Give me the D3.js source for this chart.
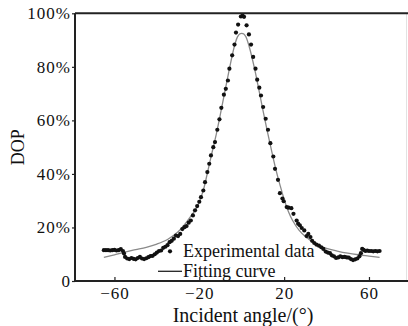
<!DOCTYPE html>
<html>
<head>
<meta charset="utf-8">
<script src="https://cdn.jsdelivr.net/npm/d3@7"></script>
<style>
    html, body { margin: 0; padding: 0; background: #fff; }
    svg { display: block; }
    text { font-family: 'Liberation Serif', 'Times New Roman', serif; fill: #111; }
</style>
</head>
<body>
<svg id="chart"></svg>
<script>
// measured data points (incident angle in degrees, DOP in %)
var expAngles = [
    -65, -64, -63, -62, -61, -60, -59, -58, -57, -56, -55.5, -55, -54, -53, -52, -51, -50, -49, -48, -47,
    -46, -45, -44, -43, -42, -41, -40, -39, -38, -37, -36, -35, -34, -33, -32, -31, -30, -29, -28, -27,
    -26, -25, -24, -23, -22, -21, -20, -19.2, -18.1, -17.3, -16.2, -15.3, -14.5, -13.4, -12.6, -11.5, -10.5, -9.6, -8.4, -7.5,
    -6.5, -5.8, -4.5, -3.4, -2.7, -1.7, -0.4, 0.4, 1.1, 2.3, 3.4, 4.4, 5.4, 6.5, 7.3, 8.3, 9.1, 10.1, 11.3, 12.4,
    13.5, 14.9, 15.7, 17.1, 18.0, 19.2, 19.8, 21.2, 22.1, 23.4, 24.4, 25.9, 26.6, 27.4, 28.3, 29.5, 30.6, 31.4, 32.4, 33.2,
    34.2, 35.2, 36.4, 37.5, 38.5, 39.6, 40.6, 41.6, 42.5, 43.5, 44.5, 45.5, 46.5, 47.5, 48.5, 49.5, 50.5, 51.5, 52.5, 53.5,
    54.5, 55.5, 56.2, 56.8, 57.5, 58.3, 59.2, 60, 61, 62, 63, 64, 65
];
var expDop = [
    11.5, 11.5, 11.5, 11.4, 11.5, 11.6, 11.4, 11.5, 11.9, 11.2, 10.3, 9.0, 8.4, 8.2, 8.6, 8.3, 8.1, 8.6, 9.0, 8.4,
    8.2, 8.5, 8.9, 9.3, 9.4, 10.0, 10.6, 11.2, 11.4, 12.4, 12.8, 13.4, 14.5, 15.0, 15.8, 17.0, 16.8, 17.6, 19.4, 20.1,
    20.5, 21.8, 22.6, 24.5, 26.4, 28.0, 29.6, 31.3, 33.8, 36.9, 40.7, 43.8, 46.9, 50.0, 51.9, 56.5, 60.4, 64.7, 69.6, 71.8,
    74.9, 79.3, 84.3, 88.3, 92.8, 95.8, 98.8, 99.1, 98.7, 95.5, 92.1, 88.3, 83.7, 79.3, 75.2, 72.2, 69.3, 65.0, 60.6, 56.5,
    51.5, 46.5, 41.9, 37.8, 32.8, 30.8, 29.8, 27.6, 27.4, 27.2, 25.1, 22.6, 21.4, 20.8, 19.8, 18.9, 16.8, 17.6, 16.4, 15.0,
    14.2, 13.6, 13.2, 12.6, 12.0, 11.0, 10.6, 10.4, 9.6, 9.2, 8.6, 8.8, 9.2, 8.9, 9.0, 8.8, 8.7, 8.2, 7.8, 8.1,
    8.4, 9.2, 10.4, 12.0, 11.6, 11.2, 11.4, 11.2, 11.2, 11.1, 11.2, 11.1, 11.2
];

// fitting curve
var fitAngles = [-65, -60, -55, -50, -45, -40, -35, -30, -27, -24, -22, -20, -18, -16, -14, -12, -10, -8, -6, -4, -3, -2, -1, 0,
    1, 2, 3, 4, 6, 8, 10, 12, 14, 16, 18, 20, 22, 24, 27, 30, 35, 40, 45, 50, 55, 60, 65];
var fitDop = [8.8, 9.8, 10.8, 11.7, 12.6, 13.8, 15.5, 18.4, 21.0, 24.2, 26.4, 29.5, 34.2, 41.0, 48.0, 54.8, 62.5, 70.5, 78.5, 86.0, 89.0, 91.2, 92.3, 92.5,
    92.3, 91.2, 89.0, 86.2, 79.5, 71.8, 63.8, 56.2, 49.0, 42.0, 36.0, 30.5, 26.0, 22.6, 19.0, 16.6, 13.8, 12.2, 11.2, 10.4, 9.8, 9.3, 8.8];

var xTicks = [-60, -20, 20, 60];
var yTicks = [0, 20, 40, 60, 80, 100];

var legendLabels = ['Experimental data', 'Fitting curve'];

(function(d3) {
    'use strict';

    var width = 408,
        height = 326;

    var plot = { left: 75, right: 408, top: 13.3, bottom: 281 };

    var x = d3.scaleLinear().domain([-78.6, 78.4]).range([plot.left, plot.right]),
        y = d3.scaleLinear().domain([0, 100]).range([plot.bottom, plot.top]);

    var svg = d3.select('#chart')
        .attr('width', width)
        .attr('height', height);

    // faint right border of the frame
    svg.append('line')
        .attr('x1', 406.5).attr('x2', 406.5)
        .attr('y1', plot.top).attr('y2', plot.bottom)
        .attr('stroke', '#e2e2e2')
        .attr('stroke-width', 1);

    // fitting curve
    var line = d3.line()
        .x(function (d) { return x(d[0]); })
        .y(function (d) { return y(d[1]); })
        .curve(d3.curveCatmullRom.alpha(0.5));

    svg.append('path')
        .datum(fitAngles.map(function (a, i) { return [a, fitDop[i]]; }))
        .attr('d', line)
        .attr('fill', 'none')
        .attr('stroke', '#8a8a8a')
        .attr('stroke-width', 1.3);

    // experimental points
    svg.append('g')
        .selectAll('circle')
        .data(expAngles.map(function (a, i) { return [a, expDop[i]]; }))
        .enter()
        .append('circle')
        .attr('cx', function (d) { return x(d[0]); })
        .attr('cy', function (d) { return y(d[1]); })
        .attr('r', 2.1)
        .attr('fill', '#111');

    // x axis, ticks pointing into the plot
    var xAxis = svg.append('g')
        .attr('transform', 'translate(0,' + plot.bottom + ')')
        .call(d3.axisBottom(x)
            .tickValues(xTicks)
            .tickSize(-4)
            .tickPadding(6)
            .tickFormat(function (d) { return d < 0 ? '\u2212' + Math.abs(d) : d; }));
    xAxis.select('.domain').remove();
    xAxis.selectAll('.tick line').attr('stroke', '#222').attr('stroke-width', 1.2);
    xAxis.selectAll('.tick text')
        .attr('font-size', 17)
        .attr('letter-spacing', 1)
        .attr('fill', '#111');

    // y axis, short outward ticks
    var yAxis = svg.append('g')
        .attr('transform', 'translate(' + plot.left + ',0)')
        .call(d3.axisLeft(y)
            .tickValues(yTicks)
            .tickSize(3)
            .tickPadding(1)
            .tickFormat(function (d) { return d === 0 ? '0' : d + '%'; }));
    yAxis.select('.domain').remove();
    yAxis.selectAll('.tick line').attr('stroke', '#222').attr('stroke-width', 1.2);
    yAxis.selectAll('.tick text')
        .attr('font-size', 17)
        .attr('letter-spacing', 1)
        .attr('fill', '#111');

    // frame lines: left, bottom, top
    svg.append('path')
        .attr('d', 'M' + plot.left + ',' + plot.top + 'V' + plot.bottom + 'H' + plot.right)
        .attr('fill', 'none')
        .attr('stroke', '#222')
        .attr('stroke-width', 2);
    svg.append('line')
        .attr('x1', plot.left).attr('x2', plot.right)
        .attr('y1', plot.top).attr('y2', plot.top)
        .attr('stroke', '#222')
        .attr('stroke-width', 2);

    // axis titles
    svg.append('text')
        .attr('x', 243)
        .attr('y', 322)
        .attr('text-anchor', 'middle')
        .attr('font-size', 20)
        .text('Incident angle/(\u00b0)');

    svg.append('text')
        .attr('transform', 'translate(23.5,' + ((plot.top + plot.bottom) / 2) + ') rotate(-90)')
        .attr('text-anchor', 'middle')
        .attr('font-size', 18)
        .text('DOP');

    // legend
    var legend = svg.append('g').attr('transform', 'translate(158,0)');

    legend.append('circle')
        .attr('cx', 12)
        .attr('cy', 251.3)
        .attr('r', 2.1)
        .attr('fill', '#111');
    legend.append('text')
        .attr('x', 25)
        .attr('y', 257)
        .attr('font-size', 18)
        .text(legendLabels[0]);

    legend.append('line')
        .attr('x1', 0).attr('x2', 24)
        .attr('y1', 271.3).attr('y2', 271.3)
        .attr('stroke', '#222')
        .attr('stroke-width', 1.3);
    legend.append('text')
        .attr('x', 25)
        .attr('y', 276.5)
        .attr('font-size', 18)
        .text(legendLabels[1]);
})(window.d3);
</script>
</body>
</html>
